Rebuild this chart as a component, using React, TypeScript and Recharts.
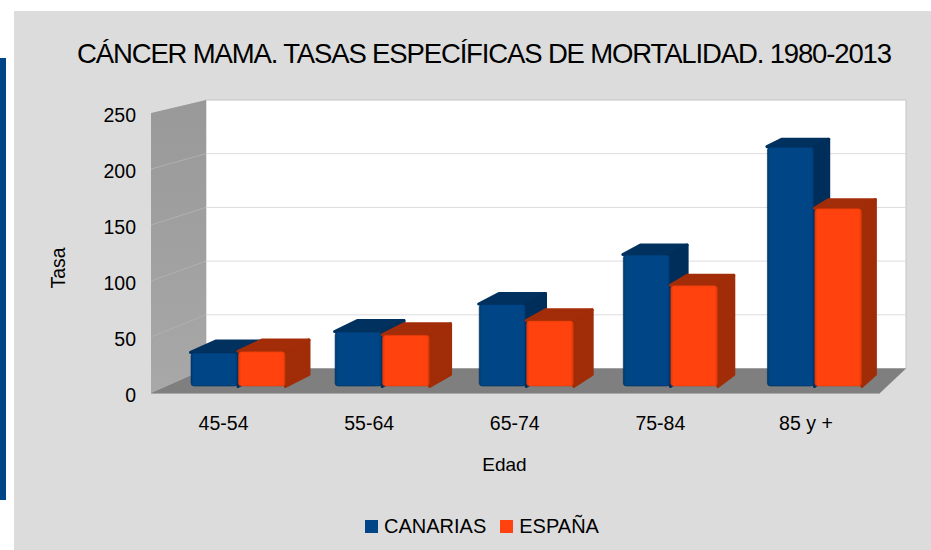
import React from 'react';
import { BarChart, Bar, XAxis, YAxis, Legend } from 'recharts';

const ageGroups = ['45-54', '55-64', '65-74', '75-84', '85 y +'];
const canarias = [31, 50, 75, 120, 218];
const espana = [32, 47, 60, 92, 162];
const yTicks = [0, 50, 100, 150, 200, 250];

const data = ageGroups.map((name, i) => ({ name, canarias: canarias[i], espana: espana[i] }));

const BLUE = '#004586';
const ORANGE = '#ff420e';
const FONT = '"Liberation Sans", Arial, sans-serif';

const PLOT_TOP = 111.5;
const PLOT_BOTTOM = 386.5;

// the bars stand inside the box, so their depth shrinks towards the right and the top
const depthX = (x: number) => 23.5 - ((x - 285) * 10) / 576;
const depthY = (y: number) => 12 - ((PLOT_BOTTOM - y) * 4.5) / 239;

const Bar3D = (props: any) => {
  const { x, y, width, height, fill } = props;
  if (!height) return null;
  const side = fill === BLUE ? '#002e5a' : '#a02c08';
  const top = fill === BLUE ? '#00315f' : '#a32d08';
  const edge = fill === BLUE ? '#00315f' : '#d83808';
  const r = x + width;
  const b = y + height;
  const pts = (list: number[][]) => list.map((p) => p.join(',')).join(' ');
  return (
    <g>
      <polygon
        points={pts([[x, y], [r, y], [r + depthX(r), y - depthY(y)], [x + depthX(x), y - depthY(y)]])}
        fill={top}
        stroke={top}
        strokeWidth={3}
        strokeLinejoin="round"
      />
      <polygon
        points={pts([[r, y], [r + depthX(r), y - depthY(y)], [r + depthX(r), b - depthY(b)], [r, b]])}
        fill={side}
        stroke={side}
        strokeWidth={3}
        strokeLinejoin="round"
      />
      <rect
        x={x + 0.5}
        y={y + 0.5}
        width={width - 1}
        height={height - 1}
        rx={3}
        fill={fill === BLUE ? 'url(#faceBlue)' : 'url(#faceOrange)'}
        stroke={edge}
        strokeOpacity={0.6}
      />
    </g>
  );
};

const Box = () => {
  const backY = yTicks.map((t) => 368.5 - (t / 250) * 268.5);
  const frontY = yTicks.map((t) => 393 - (t / 250) * 280);
  return (
    <g>
      <defs>
        <linearGradient id="faceBlue" x1="0" y1="0" x2="1" y2="0">
          <stop offset="0" stopColor="#003a70" />
          <stop offset="0.06" stopColor={BLUE} />
          <stop offset="0.94" stopColor={BLUE} />
          <stop offset="1" stopColor="#003a70" />
        </linearGradient>
        <linearGradient id="faceOrange" x1="0" y1="0" x2="1" y2="0">
          <stop offset="0" stopColor="#e03a0c" />
          <stop offset="0.06" stopColor={ORANGE} />
          <stop offset="0.94" stopColor={ORANGE} />
          <stop offset="1" stopColor="#e03a0c" />
        </linearGradient>
        <linearGradient id="wallShade" x1="0" y1="0" x2="0" y2="1">
          <stop offset="0" stopColor="#999999" />
          <stop offset="1" stopColor="#a8a8a8" />
        </linearGradient>
      </defs>
      <rect x={206} y={100} width={700} height={268.5} fill="#ffffff" stroke="#c4c4c4" strokeWidth={1} />
      <polygon points="151,113 206,100 206,368.5 151,393" fill="url(#wallShade)" />
      <polygon points="151,393 206,368.5 906,368.5 880,393" fill="#7f7f7f" />
      <line x1={151} y1={393.5} x2={880} y2={393.5} stroke="#a8a8a8" strokeWidth={1} />
      {yTicks.slice(1, 5).map((t, i) => (
        <g key={t}>
          <line x1={206} y1={backY[i + 1]} x2={906} y2={backY[i + 1]} stroke="#dcdcdc" strokeWidth={1} />
          <line x1={151} y1={frontY[i + 1]} x2={206} y2={backY[i + 1]} stroke="#b0b0b0" strokeWidth={1} />
        </g>
      ))}
      <text x={484.5} y={63} textAnchor="middle" fontFamily={FONT} fontSize={27.5} textLength={815} lengthAdjust="spacing" fill="#000">
        CÁNCER MAMA. TASAS ESPECÍFICAS DE MORTALIDAD. 1980-2013
      </text>
      <text x={504.5} y={471} textAnchor="middle" fontFamily={FONT} fontSize={19} fill="#000">
        Edad
      </text>
      <text transform="translate(65,268) rotate(-90)" textAnchor="middle" fontFamily={FONT} fontSize={19.5} fill="#000">
        Tasa
      </text>
    </g>
  );
};

// axis labels sit on the front edge of the box, not on the plane of the bars
const XTick = (props: any) => {
  const { x, payload } = props;
  return (
    <text x={223 + ((x - 237) * 583) / 577} y={430} textAnchor="middle" fontFamily={FONT} fontSize={19.5} fill="#000">
      {payload.value}
    </text>
  );
};

const YTick = (props: any) => {
  const { y, payload } = props;
  return (
    <text x={136} y={393 - ((PLOT_BOTTOM - y) * 280) / 275 + 8.5} textAnchor="end" fontFamily={FONT} fontSize={19.5} fill="#000">
      {payload.value}
    </text>
  );
};

const LegendBox = (props: any) => (
  <div style={{ display: 'flex', fontFamily: FONT, fontSize: 20, color: '#000', lineHeight: '22px' }}>
    {props.payload.map((item: any) => (
      <div key={item.value} style={{ display: 'flex', alignItems: 'center', marginRight: 14 }}>
        <span style={{ width: 13, height: 13, background: item.color, marginRight: 6, display: 'inline-block' }} />
        {item.value}
      </div>
    ))}
  </div>
);

export default function App() {
  return (
    <div style={{ position: 'absolute', left: 0, top: 0, width: 931, height: 550, background: '#fff', overflow: 'hidden' }}>
      <div style={{ position: 'absolute', left: 14, top: 11, width: 917, height: 539, background: '#dcdcdc' }} />
      <div style={{ position: 'absolute', left: 0, top: 58, width: 6, height: 442, background: BLUE }} />
      <div style={{ position: 'absolute', left: 0, top: 0 }}>
        <BarChart
          width={931}
          height={550}
          data={data}
          margin={{ top: PLOT_TOP, bottom: 550 - PLOT_BOTTOM - 1, left: 164.5, right: 45 }}
          barSize={47.5}
          barGap={0}
        >
          <Box />
          <XAxis dataKey="name" height={1} axisLine={false} tickLine={false} tick={<XTick />} interval={0} />
          <YAxis width={1} domain={[0, 250]} ticks={yTicks} axisLine={false} tickLine={false} tick={<YTick />} interval={0} />
          <Legend
            layout="horizontal"
            align="center"
            verticalAlign="middle"
            content={<LegendBox />}
            wrapperStyle={{ left: 365, top: 515, width: 300 }}
          />
          <Bar dataKey="canarias" name="CANARIAS" fill={BLUE} shape={<Bar3D />} isAnimationActive={false} />
          <Bar dataKey="espana" name="ESPAÑA" fill={ORANGE} shape={<Bar3D />} isAnimationActive={false} />
        </BarChart>
      </div>
    </div>
  );
}
